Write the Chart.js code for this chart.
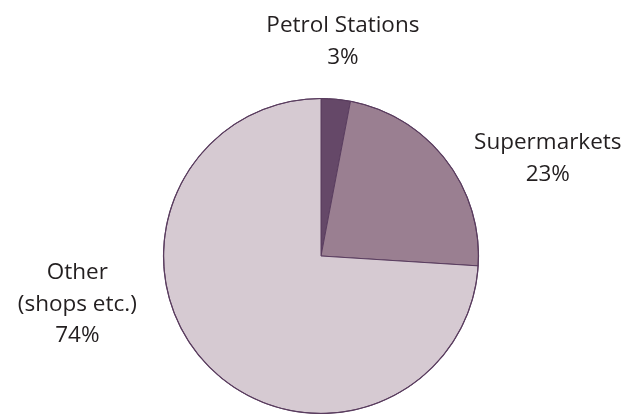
<!DOCTYPE html>
<html>
<head>
<meta charset="utf-8">
<script src="https://cdn.jsdelivr.net/npm/chart.js@4"></script>
<style>
html,body{margin:0;padding:0;background:#fff;}
#wrap{width:623px;height:414px;}
</style>
</head>
<body>
<div id="wrap"><canvas id="c" width="623" height="414"></canvas></div>
<script>
const categories = ["Petrol Stations", "Supermarkets", "Other (shops etc.)"];
const shares = [3, 23, 74];
const labelLines = [["Petrol Stations", "3%"], ["Supermarkets", "23%"], ["Other", "(shops etc.)", "74%"]];
const sliceColors = ["#654868", "#9a7f91", "#d6cad2"];

// label anchor (centre x, first baseline y) in units of the pie radius, from the pie centre
const labelAnchors = [[0.139, -1.421], [1.44, -0.677], [-1.547, 0.147]];

const outlinePlugin = {
  id: 'outline',
  afterDatasetsDraw(chart) {
    const arc = chart.getDatasetMeta(0).data[0];
    if (!arc) return;
    const ctx = chart.ctx;
    ctx.save();
    ctx.beginPath();
    ctx.arc(arc.x, arc.y, arc.outerRadius, 0, Math.PI * 2);
    ctx.strokeStyle = '#5a3d5f';
    ctx.lineWidth = 1.2;
    ctx.stroke();
    ctx.restore();
  },
  afterDraw(chart) {
    const arc = chart.getDatasetMeta(0).data[0];
    if (!arc) return;
    const ctx = chart.ctx;
    const r = arc.outerRadius;
    ctx.save();
    ctx.fillStyle = '#231f20';
    ctx.font = '22.5px "Open Sans", sans-serif';
    ctx.textAlign = 'center';
    ctx.textBaseline = 'alphabetic';
    const lh = 31.5;
    labelLines.forEach((lines, i) => {
      const cx = arc.x + labelAnchors[i][0] * r;
      const top = arc.y + labelAnchors[i][1] * r;
      lines.forEach((t, j) => ctx.fillText(t, cx, top + j * lh));
    });
    ctx.restore();
  }
};

new Chart(document.getElementById('c'), {
  type: 'pie',
  data: {
    labels: categories,
    datasets: [{
      data: shares,
      backgroundColor: sliceColors,
      borderColor: '#5a3d5f',
      borderWidth: 1
    }]
  },
  options: {
    responsive: false,
    animation: false,
    layout: { padding: { top: 98, bottom: 0, left: 163, right: 144 } },
    plugins: { legend: { display: false }, tooltip: { enabled: false } }
  },
  plugins: [outlinePlugin]
});
</script>
</body>
</html>
